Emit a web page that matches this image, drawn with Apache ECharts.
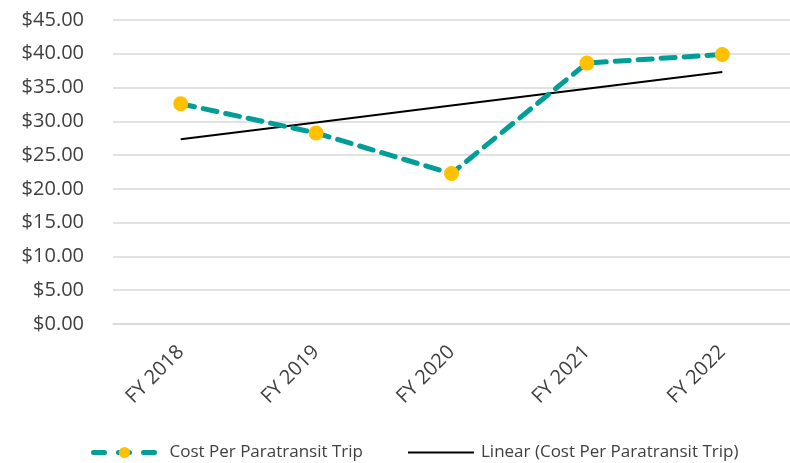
<!DOCTYPE html>
<html>
<head>
<meta charset="utf-8">
<title>Cost Per Paratransit Trip</title>
<script src="https://cdn.jsdelivr.net/npm/echarts@6/dist/echarts.min.js"></script>
<style>
  html, body { margin: 0; padding: 0; background: #fff; }
  #chart { width: 790px; height: 463px; }
</style>
</head>
<body>
<div id="chart"></div>
<script>
  // data
  var categories = ['FY 2018', 'FY 2019', 'FY 2020', 'FY 2021', 'FY 2022'];
  var costValues = [32.6, 28.28, 22.27, 38.62, 39.9];
  // Excel linear trendline, read at each category
  var trendValues = [27.35, 29.84, 32.33, 34.83, 37.32];
  var yTicks = { min: 0, max: 45, step: 5 };

  var chart = echarts.init(document.getElementById('chart'));
  var fontFamily = '"Open Sans", Lato, sans-serif';

  var option = {
    animation: false,
    textStyle: { fontFamily: fontFamily },
    grid: {
      left: 113,
      right: 0,
      top: 20,
      bottom: 139
    },
    legend: {
      left: 84,
      top: 439,
      itemWidth: 66,
      itemHeight: 14,
      itemGap: 44,
      textStyle: {
        color: '#404040',
        fontSize: 17,
        fontFamily: fontFamily
      },
      data: [
        {
          name: 'Cost Per Paratransit Trip',
          lineStyle: { width: 5, type: [11, 14], cap: 'round', dashOffset: -2 },
          textStyle: { padding: [0, 0, 0, 7] }
        },
        {
          name: 'Linear (Cost Per Paratransit Trip)',
          itemStyle: { opacity: 0 },
          textStyle: { padding: [0, 0, 0, 2] }
        }
      ]
    },
    xAxis: {
      type: 'category',
      data: categories,
      boundaryGap: true,
      axisLine: { lineStyle: { color: '#D9D9D9', width: 1.5 } },
      axisTick: { show: false },
      axisLabel: {
        rotate: 45,
        margin: 25,
        color: '#404040',
        fontSize: 20,
        fontFamily: fontFamily
      }
    },
    yAxis: {
      type: 'value',
      min: yTicks.min,
      max: yTicks.max,
      interval: yTicks.step,
      axisLine: { show: false },
      axisTick: { show: false },
      splitLine: { lineStyle: { color: '#D9D9D9', width: 1.5 } },
      axisLabel: {
        margin: 29,
        color: '#404040',
        fontSize: 20,
        fontFamily: fontFamily,
        formatter: function (v) { return '$' + v.toFixed(2); }
      }
    },
    series: [
      {
        name: 'Cost Per Paratransit Trip',
        type: 'line',
        data: costValues,
        symbol: 'circle',
        symbolSize: 15,
        itemStyle: { color: '#FFC000', borderWidth: 0 },
        lineStyle: {
          color: '#009E96',
          width: 5,
          type: [14, 9],
          cap: 'round'
        },
        z: 3
      },
      {
        name: 'Linear (Cost Per Paratransit Trip)',
        type: 'line',
        data: trendValues,
        symbol: 'none',
        itemStyle: { color: '#000000' },
        lineStyle: { color: '#000000', width: 2 },
        z: 2
      }
    ]
  };

  option && chart.setOption(option);
</script>
</body>
</html>
